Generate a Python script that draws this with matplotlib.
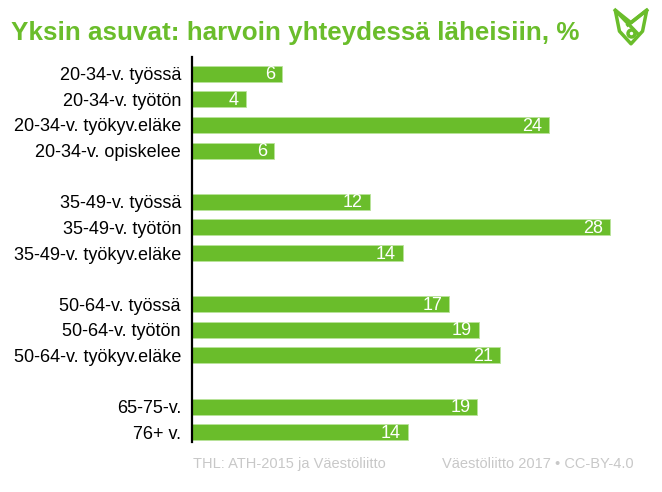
import numpy as np
import matplotlib.pyplot as plt
from matplotlib.path import Path
from matplotlib.patches import PathPatch

plt.rcParams['font.family'] = ['Liberation Sans', 'DejaVu Sans']

# Data
categories = ['20-34-v. työssä', '20-34-v. työtön', '20-34-v. työkyv.eläke', '20-34-v. opiskelee', '',
              '35-49-v. työssä', '35-49-v. työtön', '35-49-v. työkyv.eläke', '',
              '50-64-v. työssä', '50-64-v. työtön', '50-64-v. työkyv.eläke', '',
              '65-75-v.', '76+ v.']
# unrounded bar lengths (estimated) and displayed labels
values = [6.05, 3.6, 23.9, 5.5, None, 11.9, 28.0, 14.1, None, 17.2, 19.2, 20.6, None, 19.1, 14.45]
labels = ['6', '4', '24', '6', '', '12', '28', '14', '', '17', '19', '21', '', '19', '14']

green = '#6abd2b'

fig = plt.figure(figsize=[6.62, 4.92], dpi=100)
ax = fig.add_axes([192/662, 1-445/492, 448/662, 384/492])

ypos = np.arange(len(categories))
for y, v, lab in zip(ypos, values, labels):
    if v is None:
        continue
    ax.barh(y, v, height=0.63, color=green, edgecolor='#b9e39a', linewidth=0.6)
    ax.text(v - 0.45, y + 0.04, lab, color='white', fontsize=13,
            ha='right', va='center')

ax.set_ylim(len(categories) - 0.5, -0.5)
ax.set_xlim(0, 30)
ax.set_yticks(ypos)
ax.set_yticklabels(categories, fontsize=13)
ax.tick_params(axis='y', length=0, pad=8)
ax.set_xticks([])
for s in ['top', 'right', 'bottom']:
    ax.spines[s].set_visible(False)
ax.spines['left'].set_linewidth(1.6)
ax.spines['left'].set_bounds(-0.65, 14.4)

fig.text(11/662, 1-33/492, 'Yksin asuvat: harvoin yhteydessä läheisiin, %',
         color=green, fontsize=18.7, fontweight='bold', va='center')
fig.text(193/662, 1-464/492, 'THL: ATH-2015 ja Väestöliitto', color='#c8c8c8', fontsize=10.5, va='center')
fig.text(634/662, 1-464/492, 'Väestöliitto 2017 • CC-BY-4.0', color='#c8c8c8', fontsize=10.5,
         va='center', ha='right')

# simple logo
lax = fig.add_axes([610/662, 1-48/492, 42/662, 42/492])
lax.set_xlim(0, 40); lax.set_ylim(0, 40); lax.axis('off')
verts = [(5, 36), (9, 16), (20, 4), (31, 16), (35, 36), (20, 24), (5, 36)]
lax.add_patch(PathPatch(Path(verts), fill=False, edgecolor=green, lw=2.5, joinstyle='round'))
lax.plot([5, 26], [36, 14], color=green, lw=2.5)
lax.plot([35, 17], [36, 22], color=green, lw=2.5)
lax.plot([20], [14], 'o', mfc='white', mec=green, mew=2.5, ms=5)

fig.savefig('out.png', dpi=100)
